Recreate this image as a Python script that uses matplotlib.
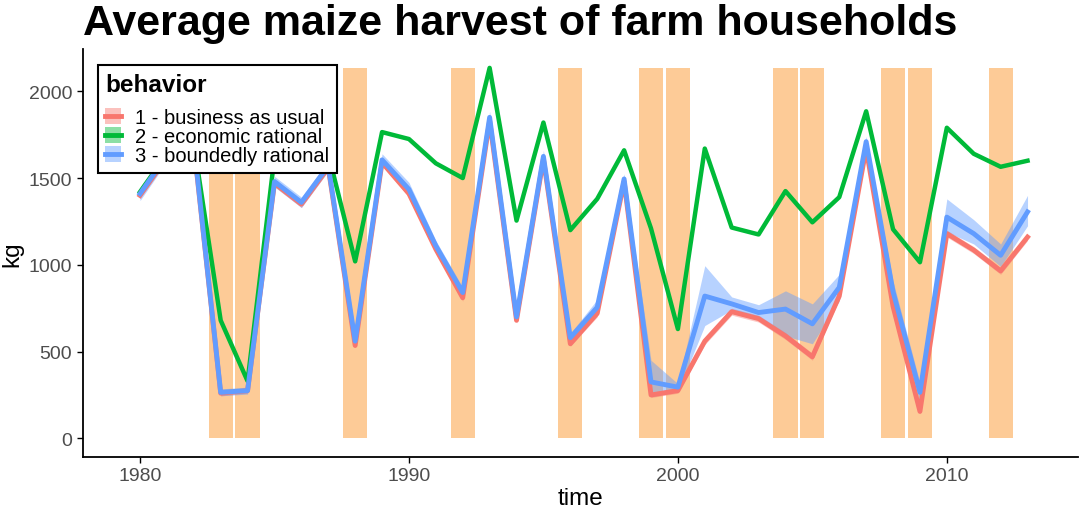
import matplotlib.pyplot as plt
from matplotlib.patches import Patch
from matplotlib.lines import Line2D

plt.rcParams['font.family'] = ['Liberation Sans', 'DejaVu Sans']

years = list(range(1980, 2014))

# 1 - business as usual
bau = [1400, 1620, 1690, 260, 275, 1470, 1350, 1560, 535,
       1590, 1410, 1090, 810, 1830, 680, 1610, 545,
       720, 1480, 250, 275, 560, 730, 690, 590, 470, 820,
       1670, 760, 155, 1180, 1085, 965, 1160]
bau_lo = [1385, 1600, 1670, 245, 260, 1450, 1330, 1540, 520,
          1570, 1390, 1070, 790, 1810, 665, 1590, 530,
          700, 1460, 235, 260, 540, 710, 670, 570, 450, 800,
          1650, 740, 140, 1160, 1065, 945, 1140]
bau_hi = [1415, 1640, 1710, 275, 290, 1490, 1370, 1580, 550,
          1610, 1430, 1110, 830, 1850, 695, 1630, 560,
          740, 1500, 265, 290, 580, 750, 710, 610, 490, 840,
          1690, 780, 170, 1200, 1105, 985, 1180]

# 2 - economic rational
econ = [1420, 1640, 1700, 680, 330, 1620, 1560, 1640, 1020,
        1765, 1725, 1585, 1500, 2135, 1255, 1820, 1200,
        1380, 1660, 1210, 630, 1670, 1215, 1175, 1425, 1245, 1390,
        1885, 1205, 1015, 1790, 1640, 1565, 1600]

# 3 - boundedly rational
bound = [1410, 1630, 1700, 265, 275, 1480, 1360, 1570, 560,
         1605, 1435, 1110, 840, 1850, 700, 1625, 580,
         755, 1495, 325, 295, 820, 775, 725, 745, 660, 870,
         1710, 845, 265, 1275, 1180, 1055, 1305]
bound_lo = [1370, 1595, 1670, 245, 255, 1450, 1330, 1540, 535,
            1575, 1395, 1085, 815, 1820, 675, 1595, 555,
            725, 1465, 240, 270, 650, 740, 690, 590, 545, 790,
            1680, 780, 205, 1190, 1120, 990, 1225]
bound_hi = [1445, 1665, 1730, 285, 295, 1510, 1390, 1600, 585,
            1640, 1475, 1140, 870, 1885, 725, 1660, 605,
            800, 1525, 450, 315, 995, 815, 770, 850, 775, 945,
            1740, 905, 320, 1380, 1260, 1120, 1400]

drought_years = [1983, 1984, 1988, 1992, 1996, 1999, 2000, 2004, 2005,
                 2008, 2009, 2012]

red = '#F8766D'
green = '#00BA38'
blue = '#619CFF'

fig = plt.figure(figsize=(10.84, 5.10), dpi=100)
ax = fig.add_axes([0.0763, 0.1025, 0.918, 0.7995])

bar_top = max(econ)
ax.bar(drought_years, [bar_top] * len(drought_years), width=0.9,
       color='#FDCB97', edgecolor='none', zorder=1)

ax.fill_between(years, bau_lo, bau_hi, color=red, alpha=0.4, lw=0, zorder=2)
ax.fill_between(years, bound_lo, bound_hi, color=blue, alpha=0.45, lw=0, zorder=2)
ax.plot(years, bau, color=red, lw=3.5, zorder=3)
ax.plot(years, econ, color=green, lw=3.2, zorder=3)
ax.plot(years, bound, color=blue, lw=3.5, zorder=4)

ax.set_xlim(1977.87, 2014.87)
ax.set_ylim(-106, 2244)
ax.set_xticks([1980, 1990, 2000, 2010])
ax.set_yticks([0, 500, 1000, 1500, 2000])
ax.tick_params(labelsize=14, labelcolor='#4D4D4D', color='black', length=4, width=1)
for s in ['top', 'right']:
    ax.spines[s].set_visible(False)
for s in ['left', 'bottom']:
    ax.spines[s].set_linewidth(1.3)

ax.set_xlabel('time', fontsize=17.5, labelpad=2)
ax.set_ylabel('kg', fontsize=17.5, labelpad=4)

fig.text(0.0765, 1 - 35.0 / 510, 'Average maize harvest of farm households',
         fontsize=31, fontweight='bold', ha='left', va='baseline')

handles = [
    (Patch(facecolor=red, alpha=0.45, lw=0), Line2D([], [], color=red, lw=3.5)),
    (Patch(facecolor=green, alpha=0.45, lw=0), Line2D([], [], color=green, lw=3.5)),
    (Patch(facecolor=blue, alpha=0.45, lw=0), Line2D([], [], color=blue, lw=3.5)),
]
labels = ['1 - business as usual', '2 - economic rational', '3 - boundedly rational']
leg = ax.legend(handles, labels, title='behavior', loc='upper left',
                bbox_to_anchor=(0.015, 0.961), fontsize=14.5, title_fontsize=17.5,
                frameon=True, fancybox=False, edgecolor='black', framealpha=1,
                handlelength=0.8, handleheight=0.85, handletextpad=0.7,
                labelspacing=0.0, borderpad=0.38, borderaxespad=0)
leg.get_frame().set_linewidth(1.5)
leg.get_title().set_fontweight('bold')
leg._legend_box.align = 'left'
leg._legend_box.sep = 9
leg.set_zorder(10)

fig.savefig('out.png', dpi=100)
